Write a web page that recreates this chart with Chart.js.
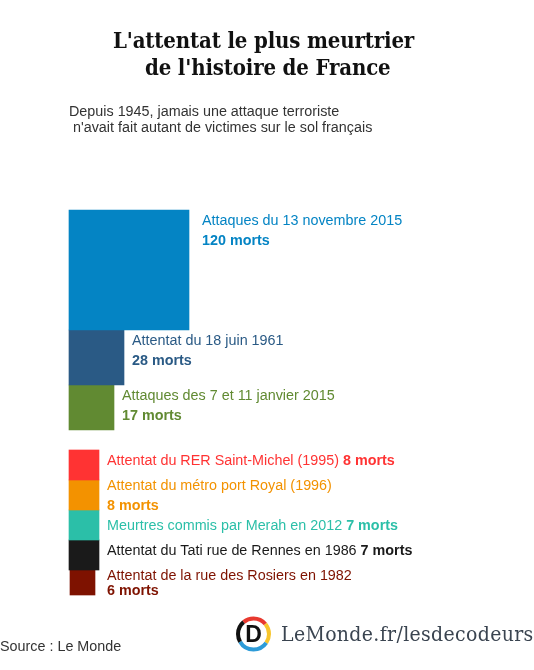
<!DOCTYPE html>
<html lang="fr">
<head>
<meta charset="utf-8">
<title>L'attentat le plus meurtrier de l'histoire de France</title>
<script src="https://cdn.jsdelivr.net/npm/chart.js@4/dist/chart.umd.min.js"></script>
<style>
  html, body { margin: 0; padding: 0; background: #fff; overflow: hidden; }
  #page { position: relative; width: 534px; height: 670px; }
  #chart { position: absolute; left: 0; top: 0; }
  .txt { position: absolute; white-space: pre; line-height: 1; }
  .title { font: bold 22px "DejaVu Serif Condensed", "DejaVu Serif", serif; letter-spacing: -0.15px; color: #111; }
  .sub { font: 14.35px "Liberation Sans", Arial, sans-serif; color: #333; }
  .brand { font: 21px "DejaVu Serif Condensed", "DejaVu Serif", serif; letter-spacing: 0.35px; color: #3a4450; }
  #logo { position: absolute; left: 234px; top: 615px; }
</style>
</head>
<body>
<div id="page">
  <canvas id="chart" width="534" height="670"></canvas>
  <div class="txt title" style="left:113px;top:27px">L'attentat le plus meurtrier</div>
  <div class="txt title" style="left:145px;top:54px">de l'histoire de France</div>
  <div class="txt sub" style="left:69px;top:103px">Depuis 1945, jamais une attaque terroriste</div>
  <div class="txt sub" style="left:69px;top:119px"> n'avait fait autant de victimes sur le sol français</div>
  <div class="txt sub" style="left:0;top:638px">Source : Le Monde</div>
  <svg id="logo" width="40" height="40" viewBox="0 0 40 40">
    <g fill="none" stroke-width="4" transform="rotate(-90 19.5 19)">
      <circle cx="19.5" cy="19" r="15.5" pathLength="360" stroke="#e8392f" stroke-dasharray="90 270" stroke-dashoffset="40"/>
      <circle cx="19.5" cy="19" r="15.5" pathLength="360" stroke="#f7c52c" stroke-dasharray="75 285" stroke-dashoffset="-50"/>
      <circle cx="19.5" cy="19" r="15.5" pathLength="360" stroke="#2d9bd8" stroke-dasharray="115 245" stroke-dashoffset="-125"/>
      <circle cx="19.5" cy="19" r="15.5" pathLength="360" stroke="#111111" stroke-dasharray="80 280" stroke-dashoffset="-240"/>
    </g>
    <text x="19.5" y="27" text-anchor="middle" font-family="Liberation Sans, Arial, sans-serif" font-weight="bold" font-size="23" fill="#111">D</text>
  </svg>
  <div class="txt brand" style="left:281px;top:622px">LeMonde.fr/lesdecodeurs</div>
</div>

<script>
var categories = [
  'Attaques du 13 novembre 2015',
  'Attentat du 18 juin 1961',
  'Attaques des 7 et 11 janvier 2015',
  'Attentat du RER Saint-Michel (1995)',
  'Attentat du métro port Royal (1996)',
  'Meurtres commis par Merah en 2012',
  'Attentat du Tati rue de Rennes en 1986',
  'Attentat de la rue des Rosiers en 1982'
];
var deaths = [120, 28, 17, 8, 8, 7, 7, 6];
// side of each square
var squareSides = [120, 55, 45, 30, 30, 30, 30, 25];
var colors = ['#0484c4', '#2a5a85', '#618a32', '#ff3333', '#f39200', '#2bbfa8', '#1a1a1a', '#7e1200'];

// label placement: gap after the square, offset from row top, line spacing (0 = same line)
var labelStyle = [
  { gap: 13, top: 11, lead: 20 },
  { gap: 8, top: 11, lead: 20 },
  { gap: 8, top: 11, lead: 20 },
  { gap: 8, top: 11, lead: 0 },
  { gap: 8, top: 6, lead: 20 },
  { gap: 8, top: 16, lead: 0 },
  { gap: 8, top: 11, lead: 0 },
  { gap: 12, top: 6, lead: 15 }
];

// rows are piled up from the top, with a white gap after the third one
var firstTop = 210, groupGap = 20, groupEnd = 2;
var centers = [];
var cursor = firstTop;
squareSides.forEach(function(side, i) {
  centers.push(cursor + side / 2);
  cursor += side;
  if (i === groupEnd) {
    cursor += groupGap;
  }
});

var datasets = categories.map(function(name, i) {
  // the smallest square sits one unit to the right in the original
  var start = i === categories.length - 1 ? 1 : 0;
  return {
    label: name,
    data: [{ x: [start, start + squareSides[i]], y: centers[i] }],
    backgroundColor: colors[i],
    barThickness: squareSides[i],
    borderWidth: 0,
    stack: 'squares'
  };
});

var labelsPlugin = {
  id: 'squareLabels',
  afterDatasetsDraw: function(chart) {
    var ctx = chart.ctx;
    ctx.save();
    ctx.textBaseline = 'middle';
    categories.forEach(function(name, i) {
      var bar = chart.getDatasetMeta(i).data[0];
      var style = labelStyle[i];
      var x = bar.x + style.gap;
      var y = bar.y - squareSides[i] / 2 + style.top;
      var count = deaths[i] + ' morts';
      ctx.fillStyle = colors[i];
      ctx.font = '14.35px "Liberation Sans", Arial, sans-serif';
      ctx.fillText(name, x, y);
      if (style.lead === 0) {
        x += ctx.measureText(name + ' ').width;
      } else {
        y += style.lead;
      }
      ctx.font = 'bold 14.35px "Liberation Sans", Arial, sans-serif';
      ctx.fillText(count, x, y);
    });
    ctx.restore();
  }
};

new Chart(document.getElementById('chart'), {
  type: 'bar',
  data: { datasets: datasets },
  plugins: [labelsPlugin],
  options: {
    indexAxis: 'y',
    responsive: false,
    animation: false,
    layout: { padding: 0 },
    plugins: {
      legend: { display: false },
      title: { display: false },
      tooltip: { enabled: false }
    },
    scales: {
      x: { type: 'linear', min: -69, max: 465, stacked: false, display: false },
      y: { type: 'linear', min: 0, max: 670, reverse: true, offset: false, display: false }
    }
  }
});
</script>
</body>
</html>
